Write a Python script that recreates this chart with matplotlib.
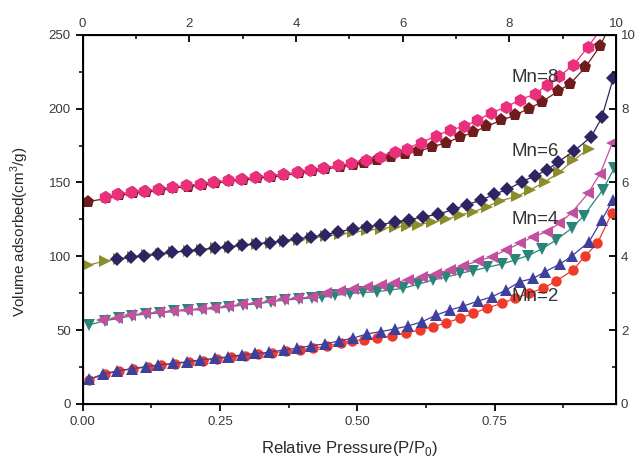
import numpy as np
import matplotlib
matplotlib.use('Agg')
import matplotlib.pyplot as plt
from matplotlib.ticker import MultipleLocator

plt.rcParams['font.family'] = ['Liberation Sans', 'DejaVu Sans']
plt.rcParams['mathtext.fontset'] = 'custom'
plt.rcParams['mathtext.rm'] = 'Liberation Sans'

# Mn=2 : red circles / blue up triangles
red_x = [0.012, 0.04, 0.066, 0.092, 0.118, 0.143, 0.168, 0.194, 0.219, 0.244, 0.27, 0.295, 0.32,
         0.345, 0.37, 0.395, 0.42, 0.445, 0.47, 0.49, 0.512, 0.536, 0.563, 0.589, 0.614, 0.638,
         0.662, 0.687, 0.711, 0.736, 0.763, 0.787, 0.813, 0.838, 0.862, 0.893, 0.914, 0.937, 0.963]
red_y = [16.5, 20, 22.3, 23.8, 25, 26.2, 27.3, 28.4, 29.4, 30.5, 31.6, 32.6, 33.6,
         34.6, 35.6, 36.6, 37.8, 39, 41.5, 42.6, 43.6, 44.5, 46, 48.3, 50, 52.3,
         55, 58, 61.4, 64.8, 68.2, 71.5, 75, 78.3, 83.3, 90.7, 100, 108.8, 129]
blue_x = [0.012, 0.037, 0.063, 0.09, 0.115, 0.137, 0.164, 0.19, 0.214, 0.241, 0.265, 0.29, 0.314,
          0.339, 0.366, 0.39, 0.416, 0.441, 0.467, 0.492, 0.517, 0.543, 0.568, 0.592, 0.618, 0.644,
          0.669, 0.693, 0.72, 0.745, 0.771, 0.796, 0.82, 0.842, 0.869, 0.89, 0.922, 0.945, 0.965]
blue_y = [16.7, 20.3, 22.5, 23.9, 25.3, 26.4, 27.5, 28.6, 29.8, 30.9, 32, 33.2, 34.2,
          34.9, 36.6, 37.7, 39.5, 40.6, 42.7, 44.5, 47.4, 49, 50.8, 52.8, 55.7, 60.3,
          63.6, 66.3, 69.7, 72.6, 77.2, 82.8, 85, 89.6, 94.8, 100, 109.9, 124.6, 138]

# Mn=4 : teal down triangles / magenta left triangles
teal_x = [0.012, 0.04, 0.066, 0.09, 0.116, 0.141, 0.166, 0.192, 0.217, 0.242, 0.267, 0.292, 0.318,
          0.343, 0.368, 0.393, 0.418, 0.436, 0.46, 0.486, 0.511, 0.536, 0.56, 0.583, 0.61, 0.638,
          0.662, 0.687, 0.711, 0.736, 0.763, 0.787, 0.811, 0.836, 0.862, 0.89, 0.912, 0.947, 0.968]
teal_y = [53.5, 56.4, 57.9, 59.8, 60.9, 61.6, 62.7, 63.4, 64, 64.7, 65.8, 67, 67.7,
          69.2, 70.4, 71, 71.8, 72.2, 73.5, 74.8, 75.5, 76, 77.2, 78.3, 81, 84,
          85.8, 88.5, 90.3, 92.5, 94.8, 97.5, 100.5, 105, 111, 118.9, 127.4, 145, 160]
mag_x = [0.035, 0.063, 0.086, 0.113, 0.139, 0.164, 0.19, 0.215, 0.239, 0.265, 0.29, 0.316, 0.341,
         0.365, 0.39, 0.417, 0.443, 0.468, 0.492, 0.517, 0.543, 0.567, 0.592, 0.618, 0.644, 0.669,
         0.693, 0.72, 0.745, 0.771, 0.796, 0.82, 0.845, 0.868, 0.89, 0.92, 0.942, 0.964]
mag_y = [56.9, 58.4, 60.3, 61.4, 62.1, 63.2, 63.9, 64.5, 65.2, 66.3, 67.5, 68.2, 69.7,
         70.9, 71.5, 72.6, 75, 76.7, 77.6, 79.4, 80.6, 82.1, 84, 86.2, 88, 90.7,
         93.6, 96.8, 99.7, 104.3, 108.8, 113.3, 116.7, 122.5, 129.5, 142.6, 156, 176.5]

# Mn=6 : olive right triangles / navy diamonds
olive_x = [0.01, 0.04, 0.067, 0.092, 0.117, 0.142, 0.167, 0.193, 0.218, 0.243, 0.268, 0.293, 0.318,
           0.343, 0.368, 0.393, 0.418, 0.443, 0.468, 0.493, 0.518, 0.543, 0.568, 0.59, 0.61, 0.636,
           0.662, 0.687, 0.711, 0.736, 0.76, 0.79, 0.815, 0.842, 0.868, 0.893, 0.922]
olive_y = [94, 96.8, 98.3, 99.6, 100.6, 101.6, 102.8, 103.7, 104.6, 105.5, 106.4, 107.4, 108.3,
           109.3, 110.2, 111.1, 112.4, 113.6, 115, 116.3, 117.6, 118.8, 120, 120.8, 121.5, 123,
           125, 128, 130, 133.6, 137.6, 140.5, 145, 150.5, 157, 165, 173]
navy_x = [0.062, 0.088, 0.112, 0.138, 0.163, 0.19, 0.214, 0.24, 0.265, 0.29, 0.315, 0.341, 0.365,
          0.39, 0.416, 0.441, 0.465, 0.492, 0.517, 0.542, 0.568, 0.594, 0.62, 0.647, 0.675, 0.7,
          0.725, 0.749, 0.773, 0.8, 0.824, 0.845, 0.866, 0.895, 0.926, 0.945, 0.966]
navy_y = [98, 99.5, 100.4, 101.5, 102.9, 103.6, 104.5, 105.6, 106.3, 107.6, 108.5, 109.2, 110.6,
          111.7, 113.3, 114.4, 116.7, 118.3, 120, 121.2, 123.4, 124.6, 126.8, 128.4, 131.8, 135,
          138, 142, 145.3, 150.5, 154.6, 158.4, 164, 171.5, 181, 194, 220.7]

# Mn=8 : brown pentagons / pink hexagons
brown_x = [0.01, 0.043, 0.066, 0.091, 0.115, 0.141, 0.165, 0.191, 0.217, 0.241, 0.267, 0.291, 0.317,
           0.343, 0.367, 0.393, 0.417, 0.441, 0.468, 0.492, 0.512, 0.535, 0.562, 0.587, 0.61, 0.636,
           0.662, 0.687, 0.711, 0.735, 0.762, 0.787, 0.812, 0.836, 0.866, 0.888, 0.915, 0.942, 0.962]
brown_y = [137, 139.2, 141.2, 142.7, 143.4, 144.8, 146.2, 147.2, 148.2, 149.5, 150.8, 151.5, 152.9,
           153.6, 154.9, 156.2, 157.6, 158.9, 160.8, 162, 163.5, 165, 167, 169.6, 171, 174,
           177, 180.7, 184, 188, 192, 195.6, 200, 204.5, 212, 217, 228, 242.4, 258]
pink_x = [0.04, 0.063, 0.088, 0.112, 0.138, 0.162, 0.188, 0.214, 0.238, 0.264, 0.288, 0.314, 0.34,
          0.364, 0.39, 0.414, 0.438, 0.465, 0.489, 0.516, 0.542, 0.568, 0.59, 0.616, 0.644, 0.669,
          0.694, 0.718, 0.743, 0.77, 0.796, 0.824, 0.845, 0.868, 0.893, 0.92, 0.945]
pink_y = [140, 142, 143.5, 144.2, 145.6, 147, 148, 149, 150.3, 151.6, 152.3, 153.7, 154.4,
          155.7, 157, 158.4, 159.7, 161.5, 163, 165.5, 167.5, 170.6, 173, 177, 181.7, 185.5,
          188, 192, 197, 201, 206, 210, 216, 222, 229.5, 241.7, 255]

labels = ['Mn=8', 'Mn=6', 'Mn=4', 'Mn=2']
label_y = [221, 171, 125, 73]

series = [
    (red_x, red_y, 'o', '#f03a2a', 7.5),
    (blue_x, blue_y, '^', '#3f3f9c', 9),
    (teal_x, teal_y, 'v', '#2a8478', 9),
    (mag_x, mag_y, '<', '#c2509e', 9),
    (olive_x, olive_y, '>', '#8c8c2c', 9),
    (navy_x, navy_y, 'D', '#2f2462', 7.5),
    (brown_x, brown_y, 'p', '#701c1c', 9.5),
    (pink_x, pink_y, 'h', '#ea2f7c', 9.5),
]

fig = plt.figure(figsize=(6.38, 4.58), dpi=100)
ax = fig.add_axes([0.1296, 0.118, 0.836, 0.806])

for x, y, m, c, ms in series:
    ax.plot(x, y, '-', color=c, marker=m, markersize=ms, linewidth=0.9,
            markeredgewidth=0, clip_on=True)

ax.set_xlim(0, 0.971)
ax.set_ylim(0, 250)
ax.xaxis.set_major_locator(MultipleLocator(0.25))
ax.xaxis.set_minor_locator(MultipleLocator(0.125))
ax.yaxis.set_major_locator(MultipleLocator(50))
ax.yaxis.set_minor_locator(MultipleLocator(25))
ax.xaxis.set_major_formatter(plt.FuncFormatter(lambda v, p: f'{v:.2f}'))
ax.tick_params(which='major', direction='out', length=5, width=1.3,
               labelsize=9.5, labelcolor='#3a3a3a')
ax.tick_params(which='minor', direction='out', length=3, width=1.1)

for sp in ax.spines.values():
    sp.set_linewidth(1.4)

ax.set_xlabel('Relative Pressure(P/P$_0$)', fontsize=12, color='#2a2a2a')
ax.set_ylabel('Volume adsorbed(cm$^3$/g)', fontsize=11, color='#2a2a2a')
ax.xaxis.set_label_coords(0.50, -0.095)
ax.yaxis.set_label_coords(-0.097, 0.465)

for t, ly in zip(labels, label_y):
    ax.text(0.78, ly, t, fontsize=13.5, color='#333333', ha='left', va='center')

axt = ax.twiny()
axt.set_xlim(0, 10)
axt.xaxis.set_major_locator(MultipleLocator(2))
axt.xaxis.set_minor_locator(MultipleLocator(1))
axt.tick_params(which='major', direction='in', length=5, width=1.3,
                labelsize=9.5, labelcolor='#3a3a3a')
axt.tick_params(which='minor', direction='in', length=3, width=1.1)

axr = ax.twinx()
axr.set_ylim(0, 10)
axr.yaxis.set_major_locator(MultipleLocator(2))
axr.yaxis.set_minor_locator(MultipleLocator(1))
axr.tick_params(which='major', direction='in', length=5, width=1.3,
                labelsize=9.5, labelcolor='#3a3a3a')
axr.tick_params(which='minor', direction='in', length=3, width=1.1)

fig.savefig('out.png', dpi=100)
